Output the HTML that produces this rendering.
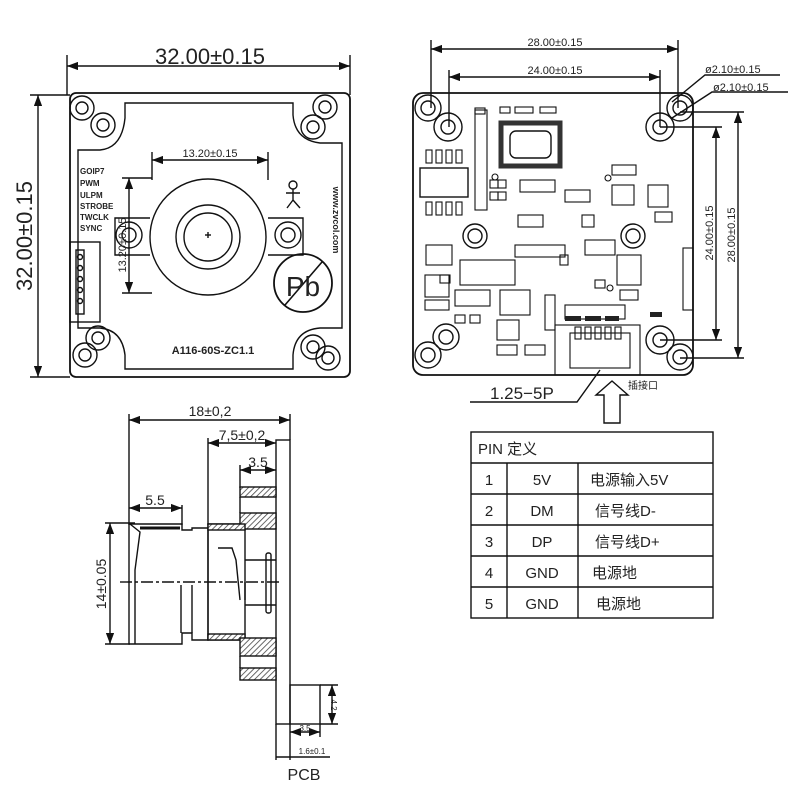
<!DOCTYPE html>
<html><head><meta charset="utf-8"><style>
html,body{margin:0;padding:0;background:#fff}
svg{display:block}
text{font-family:"Liberation Sans","Noto Sans CJK SC",sans-serif;fill:#222}
</style></head><body>
<svg width="800" height="800" viewBox="0 0 800 800" xmlns="http://www.w3.org/2000/svg">
<defs>
<pattern id="h" width="4" height="4" patternUnits="userSpaceOnUse" patternTransform="rotate(45)"><rect width="4" height="4" fill="#fff"/><line x1="0" y1="0" x2="0" y2="4" stroke="#444" stroke-width="1.6"/></pattern>
<marker id="a" markerWidth="8" markerHeight="6" refX="8" refY="3" orient="auto-start-reverse"><path d="M0,0 L8,3 L0,6 z" fill="#111"/></marker>
</defs>
<g fill="none" stroke="#111" stroke-width="1.4">
<!-- LEFT BOARD -->
<line x1="67" y1="55" x2="67" y2="95"/><line x1="350" y1="55" x2="350" y2="95"/>
<line x1="67" y1="66" x2="350" y2="66" marker-start="url(#a)" marker-end="url(#a)"/>
<line x1="30" y1="95" x2="70" y2="95"/><line x1="30" y1="377" x2="70" y2="377"/>
<line x1="38" y1="95" x2="38" y2="377" marker-start="url(#a)" marker-end="url(#a)"/>
<rect x="70" y="93" width="280" height="284" rx="6" stroke-width="1.8"/>
<path d="M125,103 H293 V115 Q295,140 320,143 H342 V328 H320 Q295,330 293,355 V369 H125 V355 Q122,330 100,328 H78 V150 H100 Q122,148 125,118 Z"/>
<circle cx="82" cy="108" r="12"/><circle cx="103" cy="125" r="12"/>
<circle cx="82" cy="108" r="6"/><circle cx="103" cy="125" r="6"/>
<circle cx="325" cy="107" r="12"/><circle cx="313" cy="127" r="12"/>
<circle cx="325" cy="107" r="6"/><circle cx="313" cy="127" r="6"/>
<circle cx="98" cy="338" r="12"/><circle cx="85" cy="355" r="12"/>
<circle cx="98" cy="338" r="6"/><circle cx="85" cy="355" r="6"/>
<circle cx="313" cy="347" r="12"/><circle cx="328" cy="358" r="12"/>
<circle cx="313" cy="347" r="6"/><circle cx="328" cy="358" r="6"/>
<path d="M150,218 H115 V255 H150 M268,218 H303 V255 H268"/>
<circle cx="129" cy="235" r="13"/><circle cx="129" cy="235" r="7"/>
<circle cx="288" cy="235" r="13"/><circle cx="288" cy="235" r="7"/>
<circle cx="208" cy="237" r="58" fill="#fff"/>
<circle cx="208" cy="237" r="32"/><circle cx="208" cy="237" r="24"/>
<line x1="205" y1="235" x2="211" y2="235"/><line x1="208" y1="232" x2="208" y2="238"/>
<line x1="152" y1="152" x2="152" y2="180"/><line x1="268" y1="152" x2="268" y2="180"/>
<line x1="152" y1="160" x2="268" y2="160" marker-start="url(#a)" marker-end="url(#a)"/>
<line x1="122" y1="178" x2="152" y2="178"/><line x1="122" y1="293" x2="152" y2="293"/>
<line x1="129" y1="178" x2="129" y2="293" marker-start="url(#a)" marker-end="url(#a)"/>
<rect x="70" y="242" width="30" height="80"/><rect x="76" y="250" width="8" height="64"/>
<circle cx="80" cy="257" r="2.5"/><circle cx="80" cy="268" r="2.5"/><circle cx="80" cy="279" r="2.5"/><circle cx="80" cy="290" r="2.5"/><circle cx="80" cy="301" r="2.5"/>
<circle cx="303" cy="283" r="29" stroke-width="1.8"/><line x1="285" y1="305" x2="322" y2="262" stroke-width="1.6"/>
<circle cx="293" cy="185" r="4"/><path d="M293,189 V200 M286,193 H300 M293,200 L287,208 M293,200 L300,208"/>
<!-- RIGHT BOARD -->
<line x1="431" y1="40" x2="431" y2="108"/><line x1="678" y1="40" x2="678" y2="108"/>
<line x1="431" y1="49" x2="678" y2="49" marker-start="url(#a)" marker-end="url(#a)"/>
<line x1="449" y1="70" x2="449" y2="127"/><line x1="660" y1="70" x2="660" y2="127"/>
<line x1="449" y1="77" x2="660" y2="77" marker-start="url(#a)" marker-end="url(#a)"/>
<rect x="413" y="93" width="280" height="282" rx="10" stroke-width="1.8"/>
<circle cx="428" cy="108" r="13"/><circle cx="428" cy="108" r="7"/>
<circle cx="448" cy="127" r="14"/><circle cx="448" cy="127" r="7"/>
<circle cx="680" cy="108" r="13"/><circle cx="680" cy="108" r="7"/>
<circle cx="660" cy="127" r="14"/><circle cx="660" cy="127" r="7"/>
<circle cx="446" cy="337" r="13"/><circle cx="446" cy="337" r="7"/>
<circle cx="428" cy="355" r="13"/><circle cx="428" cy="355" r="7"/>
<circle cx="660" cy="340" r="14"/><circle cx="660" cy="340" r="7"/>
<circle cx="680" cy="357" r="13"/><circle cx="680" cy="357" r="7"/>
<path d="M672,102 L705,75 H780 M672,118 L712,92 H788"/>
<line x1="660" y1="127" x2="722" y2="127"/><line x1="660" y1="340" x2="722" y2="340"/>
<line x1="716" y1="127" x2="716" y2="340" marker-start="url(#a)" marker-end="url(#a)"/>
<line x1="680" y1="112" x2="744" y2="112"/><line x1="680" y1="358" x2="744" y2="358"/>
<line x1="738" y1="112" x2="738" y2="358" marker-start="url(#a)" marker-end="url(#a)"/>
<rect x="501" y="123" width="59" height="43" stroke-width="5" stroke="#333"/>
<rect x="510" y="131" width="41" height="27" rx="6"/>
<circle cx="475" cy="236" r="12"/><circle cx="475" cy="236" r="7"/>
<circle cx="633" cy="236" r="12"/><circle cx="633" cy="236" r="7"/>
<rect x="420" y="168" width="48" height="29"/>
<g stroke-width="1.1">
<rect x="426" y="150" width="6" height="13"/><rect x="436" y="150" width="6" height="13"/><rect x="446" y="150" width="6" height="13"/><rect x="456" y="150" width="6" height="13"/>
<rect x="426" y="202" width="6" height="13"/><rect x="436" y="202" width="6" height="13"/><rect x="446" y="202" width="6" height="13"/><rect x="456" y="202" width="6" height="13"/>
<rect x="475" y="110" width="12" height="100"/>
<rect x="426" y="245" width="26" height="20"/><rect x="460" y="260" width="55" height="25"/>
<rect x="425" y="275" width="24" height="22"/><rect x="425" y="300" width="24" height="10"/>
<rect x="455" y="290" width="35" height="16"/>
<rect x="500" y="290" width="30" height="25"/><rect x="545" y="295" width="10" height="35"/>
<rect x="497" y="320" width="22" height="20"/><rect x="497" y="345" width="20" height="10"/><rect x="525" y="345" width="20" height="10"/>
<rect x="612" y="165" width="24" height="10"/><rect x="612" y="185" width="22" height="20"/><rect x="648" y="185" width="20" height="22"/><rect x="655" y="212" width="17" height="10"/>
<rect x="520" y="180" width="35" height="12"/><rect x="565" y="190" width="25" height="12"/>
<rect x="518" y="215" width="25" height="12"/><rect x="582" y="215" width="12" height="12"/>
<rect x="515" y="245" width="50" height="12"/><rect x="585" y="240" width="30" height="15"/>
<rect x="617" y="255" width="24" height="30"/><rect x="620" y="290" width="18" height="10"/>
<rect x="683" y="248" width="10" height="62"/>
<rect x="565" y="305" width="60" height="14"/>
<rect x="555" y="325" width="85" height="50"/><rect x="570" y="333" width="60" height="35"/>
<rect x="575" y="327" width="6" height="12"/><rect x="585" y="327" width="6" height="12"/><rect x="595" y="327" width="6" height="12"/><rect x="605" y="327" width="6" height="12"/><rect x="615" y="327" width="6" height="12"/>
<rect x="475" y="108" width="10" height="6"/><rect x="500" y="107" width="10" height="6"/><rect x="515" y="107" width="18" height="6"/><rect x="540" y="107" width="16" height="6"/>
<rect x="490" y="180" width="8" height="8"/><rect x="498" y="180" width="8" height="8"/><rect x="490" y="192" width="8" height="8"/><rect x="498" y="192" width="8" height="8"/>
<rect x="440" y="275" width="10" height="8"/><rect x="455" y="315" width="10" height="8"/><rect x="470" y="315" width="10" height="8"/>
<rect x="595" y="280" width="10" height="8"/><rect x="560" y="255" width="8" height="10"/>
<circle cx="495" cy="177" r="3"/><circle cx="608" cy="178" r="3"/><circle cx="610" cy="288" r="3"/>
</g>
<g fill="#222" stroke="none"><rect x="565" y="316" width="16" height="5"/><rect x="585" y="316" width="16" height="5"/><rect x="605" y="316" width="14" height="5"/><rect x="650" y="312" width="12" height="5"/></g>
<path d="M470,402 H577 L600,370"/>
<path d="M612,381 L628,395 H620 V423 H604 V395 H596 Z"/>
<!-- TABLE -->
<rect x="471" y="432" width="242" height="186"/>
<line x1="471" y1="463" x2="713" y2="463"/><line x1="471" y1="494" x2="713" y2="494"/><line x1="471" y1="525" x2="713" y2="525"/><line x1="471" y1="556" x2="713" y2="556"/><line x1="471" y1="587" x2="713" y2="587"/>
<line x1="507" y1="463" x2="507" y2="618"/><line x1="578" y1="463" x2="578" y2="618"/>
<!-- SIDE VIEW -->
<line x1="129" y1="414" x2="129" y2="525"/><line x1="290" y1="414" x2="290" y2="440"/>
<line x1="129" y1="420" x2="290" y2="420" marker-start="url(#a)" marker-end="url(#a)"/>
<line x1="208" y1="438" x2="208" y2="525"/>
<line x1="208" y1="443" x2="276" y2="443" marker-start="url(#a)" marker-end="url(#a)"/>
<line x1="240" y1="465" x2="240" y2="488"/>
<line x1="240" y1="470" x2="276" y2="470" marker-start="url(#a)" marker-end="url(#a)"/>
<line x1="182" y1="505" x2="182" y2="525"/>
<line x1="129" y1="508" x2="182" y2="508" marker-start="url(#a)" marker-end="url(#a)"/>
<line x1="105" y1="523" x2="135" y2="523"/><line x1="105" y1="644" x2="130" y2="644"/>
<line x1="110" y1="523" x2="110" y2="644" marker-start="url(#a)" marker-end="url(#a)"/>
<rect x="276" y="440" width="14" height="284"/>
<path d="M129,524 H182 V530 H192 V528 H208 V640 H192 V633 H182 V644 H129 Z"/>
<path d="M130,524 L140,532 L135,570 V644" />
<line x1="140" y1="528" x2="180" y2="528" stroke-width="3"/>
<line x1="181" y1="585" x2="181" y2="633"/><line x1="192" y1="585" x2="192" y2="633"/>
<rect x="208" y="524" width="37" height="116"/>
<rect x="240" y="513" width="36" height="16" fill="url(#h)"/>
<rect x="240" y="487" width="36" height="10" fill="url(#h)"/>
<rect x="208" y="524" width="37" height="6" fill="url(#h)"/>
<rect x="208" y="634" width="37" height="6" fill="url(#h)"/>
<rect x="240" y="638" width="36" height="18" fill="url(#h)"/>
<rect x="240" y="668" width="36" height="12" fill="url(#h)"/>
<line x1="240" y1="497" x2="240" y2="513"/><line x1="240" y1="656" x2="240" y2="668"/>
<rect x="266" y="553" width="5" height="60" rx="2"/>
<line x1="245" y1="560" x2="276" y2="560"/><line x1="245" y1="605" x2="276" y2="605"/>
<line x1="245" y1="582" x2="245" y2="600"/>
<path d="M218,548 H232 L236,560 L240,600"/>
<line x1="120" y1="582" x2="280" y2="582" stroke-dasharray="12,3,3,3"/>
<rect x="290" y="685" width="30" height="39"/>
<line x1="320" y1="685" x2="338" y2="685"/><line x1="320" y1="724" x2="338" y2="724"/>
<line x1="332" y1="685" x2="332" y2="724" marker-start="url(#a)" marker-end="url(#a)"/>
<line x1="276" y1="724" x2="276" y2="760"/><line x1="290" y1="724" x2="290" y2="760"/><line x1="320" y1="724" x2="320" y2="737"/>
<line x1="290" y1="732" x2="320" y2="732" marker-start="url(#a)" marker-end="url(#a)"/>
<line x1="276" y1="757" x2="330" y2="757"/>
</g>
<!-- TEXT -->
<text x="210" y="64" font-size="22" text-anchor="middle">32.00±0.15</text>
<text transform="translate(32,236) rotate(-90)" font-size="22" text-anchor="middle">32.00±0.15</text>
<text x="210" y="157" font-size="11" text-anchor="middle">13.20±0.15</text>
<text transform="translate(126,245) rotate(-90)" font-size="11" text-anchor="middle">13.20±0.15</text>
<g font-size="8" font-weight="bold"><text x="80" y="174">GOIP7</text><text x="80" y="186">PWM</text><text x="80" y="198">ULPM</text><text x="80" y="209">STROBE</text><text x="80" y="220">TWCLK</text><text x="80" y="231">SYNC</text></g>
<text transform="translate(333,220) rotate(90)" font-size="9" font-weight="bold" text-anchor="middle">www.zvcol.com</text>
<text x="303" y="296" font-size="28" text-anchor="middle">Pb</text>
<text x="213" y="354" font-size="11" font-weight="bold" text-anchor="middle">A116-60S-ZC1.1</text>
<text x="555" y="46" font-size="11" text-anchor="middle">28.00±0.15</text>
<text x="555" y="74" font-size="11" text-anchor="middle">24.00±0.15</text>
<text x="705" y="73" font-size="11">ø2.10±0.15</text>
<text x="713" y="91" font-size="11">ø2.10±0.15</text>
<text transform="translate(713,233) rotate(-90)" font-size="11" text-anchor="middle">24.00±0.15</text>
<text transform="translate(735,235) rotate(-90)" font-size="11" text-anchor="middle">28.00±0.15</text>
<text x="490" y="399" font-size="17">1.25−5P</text>
<text x="628" y="389" font-size="10">插接口</text>
<text x="478" y="454" font-size="15">PIN 定义</text>
<g font-size="15"><text x="489" y="485" text-anchor="middle">1</text><text x="489" y="516" text-anchor="middle">2</text><text x="489" y="547" text-anchor="middle">3</text><text x="489" y="578" text-anchor="middle">4</text><text x="489" y="609" text-anchor="middle">5</text>
<text x="542" y="485" text-anchor="middle">5V</text><text x="542" y="516" text-anchor="middle">DM</text><text x="542" y="547" text-anchor="middle">DP</text><text x="542" y="578" text-anchor="middle">GND</text><text x="542" y="609" text-anchor="middle">GND</text>
<text x="590" y="485">电源输入5V</text><text x="595" y="516">信号线D-</text><text x="595" y="547">信号线D+</text><text x="592" y="578">电源地</text><text x="596" y="609">电源地</text></g>
<text x="210" y="416" font-size="14" text-anchor="middle">18±0,2</text>
<text x="242" y="440" font-size="14" text-anchor="middle">7,5±0,2</text>
<text x="258" y="467" font-size="14" text-anchor="middle">3.5</text>
<text x="155" y="505" font-size="14" text-anchor="middle">5.5</text>
<text transform="translate(106,584) rotate(-90)" font-size="14" text-anchor="middle">14±0.05</text>
<text transform="translate(331,705) rotate(90)" font-size="8" text-anchor="middle">4.2</text>
<text x="305" y="731" font-size="8" text-anchor="middle">3.5</text>
<text x="312" y="754" font-size="8" text-anchor="middle">1.6±0.1</text>
<text x="304" y="780" font-size="16" text-anchor="middle">PCB</text>
</svg>
</body></html>
